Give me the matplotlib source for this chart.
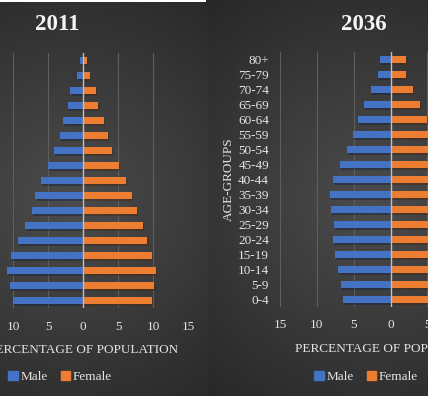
import numpy as np
import matplotlib
matplotlib.use("Agg")
import matplotlib.pyplot as plt
import matplotlib.patheffects as pe
from matplotlib.patches import Patch, Rectangle

plt.rcParams['font.family'] = ['Liberation Serif', 'DejaVu Serif']

age_groups = ['0-4', '5-9', '10-14', '15-19', '20-24', '25-29', '30-34', '35-39',
              '40-44', '45-49', '50-54', '55-59', '60-64', '65-69', '70-74', '75-79', '80+']

# percent of population (bottom age group first)
male_2011 = [10.0, 10.5, 10.8, 10.3, 9.3, 8.3, 7.3, 6.8, 6.0, 5.0, 4.2, 3.3, 2.8, 2.2, 1.8, 0.9, 0.5]
female_2011 = [9.8, 10.2, 10.4, 9.8, 9.2, 8.5, 7.7, 7.0, 6.1, 5.1, 4.1, 3.5, 3.0, 2.2, 1.8, 1.0, 0.6]
male_2036 = [6.4, 6.7, 7.1, 7.5, 7.8, 7.7, 8.1, 8.2, 7.8, 6.9, 5.9, 5.1, 4.4, 3.6, 2.6, 1.7, 1.4]
female_2036 = [6.3, 6.6, 7.0, 7.4, 7.8, 7.8, 8.2, 8.3, 7.9, 7.0, 6.1, 5.5, 5.0, 4.0, 3.1, 2.1, 2.1]

W, H = 428, 396
BLUE = '#4472C4'
ORANGE = '#ED7D31'
TXT = '#E4E4E4'

fig = plt.figure(figsize=(W / 100, H / 100), dpi=100)

# dark radial background, one per chart area
bg = fig.add_axes([0, 0, 1, 1])
xx, yy = np.meshgrid(np.arange(W), np.arange(H))
cx = np.where(xx < 208, 70, 370)
d = np.sqrt((xx - cx) ** 2 + (yy - 200) ** 2) / 260.0
shade = 0x4c - (0x4c - 0x27) * np.clip(d, 0, 1)
img = np.dstack([shade, shade, shade]) / 255.0
bg.imshow(img, aspect='auto', extent=[0, W, H, 0])
bg.set_xlim(0, W)
bg.set_ylim(H, 0)
bg.axis('off')
bg.add_patch(Rectangle((0, 0), 206, 1.5, color='white', lw=0))


def pyramid(rect, male, female, title, title_x, legend_x):
    ax = fig.add_axes(rect)
    ax.set_facecolor('none')
    y = np.arange(len(age_groups))
    shadow = [pe.SimplePatchShadow(offset=(0.8, -1.5), alpha=0.45), pe.Normal()]
    ax.barh(y, [-v for v in male], height=0.42, color=BLUE, path_effects=shadow)
    ax.barh(y, female, height=0.42, color=ORANGE, path_effects=shadow)
    ax.set_xlim(-15, 15)
    ax.set_ylim(-0.5, len(age_groups) - 0.5)
    ticks = [-15, -10, -5, 0, 5, 10, 15]
    ax.set_xticks(ticks)
    ax.set_xticklabels([str(abs(t)) for t in ticks])
    ax.set_yticks(y)
    ax.set_yticklabels(age_groups)
    ax.tick_params(length=0, colors=TXT, labelsize=9.5)
    ax.tick_params(axis='x', pad=9)
    ax.tick_params(axis='y', pad=8)
    for t in [-15, -10, -5, 5, 10, 15]:
        ax.axvline(t, color='#5E5E5E', lw=0.8, zorder=0)
    ax.axvline(0, color='#BFBFBF', lw=1.0, zorder=3)
    for s in ax.spines.values():
        s.set_visible(False)
    ax.set_xlabel('PERCENTAGE OF POPULATION', color=TXT, fontsize=9.5)
    ax.xaxis.set_label_coords(0.5, -0.14)
    ax.set_ylabel('AGE-GROUPS', color=TXT, fontsize=9.5, va='center')
    ax.yaxis.set_label_coords(-0.23, 0.5)
    fig.text(title_x, 1 - 24 / H, title, color='#F5F5F5', fontsize=16.5,
             fontweight='bold', ha='center', va='center')
    handles = [Patch(color=BLUE, label='Male'), Patch(color=ORANGE, label='Female')]
    fig.legend(handles=handles, loc='center', bbox_to_anchor=(legend_x, 1 - 377 / H),
               ncol=2, frameon=False, fontsize=9.5, labelcolor=TXT,
               handlelength=0.7, handleheight=0.7, handletextpad=0.2, columnspacing=1.0)
    return ax


pyramid([-22 / W, 88 / H, 210 / W, 255 / H], male_2011, female_2011, '2011', 57 / W, 60 / W)
pyramid([280 / W, 89 / H, 221 / W, 255 / H], male_2036, female_2036, '2036', 364 / W, 366 / W)

fig.savefig('out.png', dpi=100)
